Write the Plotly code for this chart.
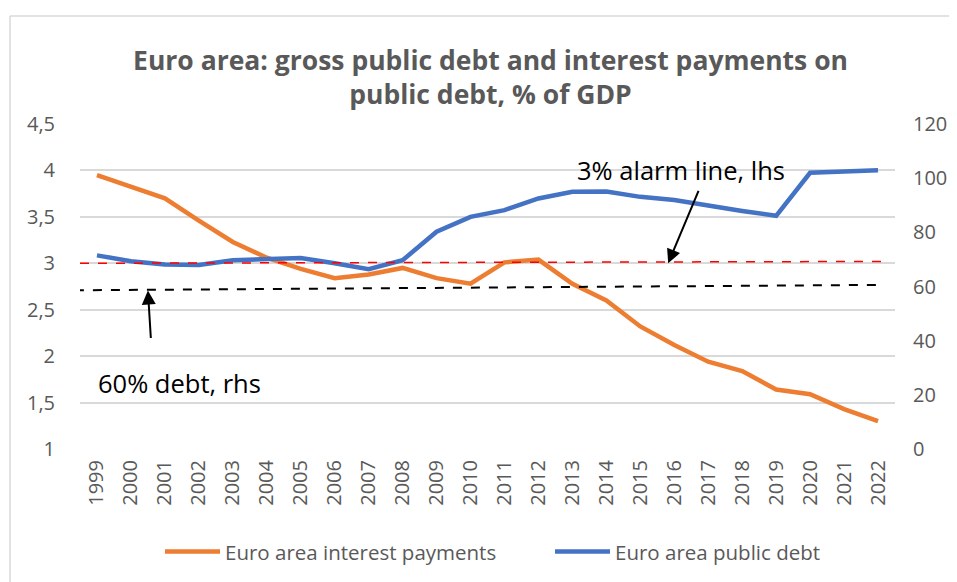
import plotly.graph_objects as go

years = list(range(1999, 2023))
interest = [3.95, 3.82, 3.70, 3.46, 3.23, 3.06, 2.94, 2.84, 2.88, 2.95, 2.84, 2.78,
            3.01, 3.04, 2.78, 2.60, 2.32, 2.12, 1.94, 1.84, 1.64, 1.59, 1.43, 1.30]
debt = [71.5, 69.3, 68.1, 67.9, 69.7, 70.0, 70.5, 68.6, 66.4, 69.7, 80.2, 85.7,
        88.2, 92.5, 95.0, 95.1, 93.1, 91.9, 89.7, 87.9, 86.1, 102.0, 102.5, 102.9]

# hand-drawn reference lines (start, end)
alarm_x = [1998.5, 2022.2]
alarm_y = [3.0, 3.02]
debt60_x = [1998.35, 2022.15]
debt60_y = [58.6, 60.6]

left_ticks = [1, 1.5, 2, 2.5, 3, 3.5, 4, 4.5]
left_labels = ["1", "1,5", "2", "2,5", "3", "3,5", "4", "4,5"]
right_ticks = [0, 20, 40, 60, 80, 100, 120]
x_range = [1998.5, 2022.5]

FONT = "Open Sans"
GRAY = "#595959"
GRID = "#D9D9D9"

fig = go.Figure()

fig.add_trace(go.Scatter(x=years, y=interest, mode="lines", name="Euro area interest payments",
                         line=dict(color="#ED7D31", width=4.5)))
fig.add_trace(go.Scatter(x=years, y=debt, mode="lines", name="Euro area public debt", yaxis="y2",
                         line=dict(color="#4472C4", width=4.5)))

fig.add_shape(type="line", xref="x", yref="y", x0=alarm_x[0], x1=alarm_x[1],
              y0=alarm_y[0], y1=alarm_y[1], line=dict(color="#FF0000", width=1.5, dash="dash"))
fig.add_shape(type="line", xref="x", yref="y2", x0=debt60_x[0], x1=debt60_x[1],
              y0=debt60_y[0], y1=debt60_y[1], line=dict(color="black", width=2, dash="dash"))

# chart frame: only its left and top edges fall inside the window
fig.add_shape(type="line", xref="paper", yref="paper", x0=-70 / 815, x1=-70 / 815, y0=-0.6, y1=1 + 108 / 325,
              line=dict(color=GRID, width=1.5))
fig.add_shape(type="line", xref="paper", yref="paper", x0=-70 / 815, x1=1.2, y0=1 + 108 / 325, y1=1 + 108 / 325,
              line=dict(color=GRID, width=1.5))

fig.add_annotation(x=2015.82, y=3.0, xref="x", yref="y", ax=31, ay=-74, text="",
                   showarrow=True, arrowhead=2, arrowsize=1.4, arrowwidth=2, arrowcolor="black")
fig.add_annotation(x=2000.5, y=58.5, xref="x", yref="y2", ax=3, ay=49, text="",
                   showarrow=True, arrowhead=2, arrowsize=1.4, arrowwidth=2, arrowcolor="black")
fig.add_annotation(x=2016.2, y=4.0, xref="x", yref="y", text="3% alarm line, lhs", showarrow=False,
                   font=dict(family=FONT, size=25.5, color="black"))
fig.add_annotation(x=2001.44, y=24.4, xref="x", yref="y2", text="60% debt, rhs", showarrow=False,
                   font=dict(family=FONT, size=25.5, color="black"))

# the page adds an 8px body margin, so the figure is 8px smaller than the window
fig.update_layout(
    width=949, height=574,
    margin=dict(l=72, r=62, t=116, b=133, autoexpand=False),
    paper_bgcolor="white", plot_bgcolor="white",
    font=dict(family=FONT, color=GRAY, size=18),
    title=dict(text="<b>Euro area: gross public debt and interest payments on<br>public debt, % of GDP</b>",
               xref="container", x=482.5 / 949, xanchor="center", y=1 - 61.5 / 574, yanchor="middle",
               font=dict(family=FONT, size=26.5, color=GRAY)),
    xaxis=dict(range=x_range, tickvals=years, ticktext=[str(y) for y in years],
               tickangle=-90, showgrid=False, zeroline=False, showline=False, automargin=False,
               ticklabelstandoff=6, tickfont=dict(size=20, color=GRAY)),
    yaxis=dict(range=[1, 4.5], tickvals=left_ticks, ticktext=left_labels,
               showgrid=True, gridcolor=GRID, gridwidth=2,
               zeroline=False, showline=False, automargin=False,
               ticklabelstandoff=24, tickfont=dict(size=20, color=GRAY)),
    yaxis2=dict(range=[0, 120], tickvals=right_ticks, overlaying="y", side="right",
                showgrid=False, zeroline=False, showline=False, automargin=False,
                ticklabelstandoff=17, tickfont=dict(size=20, color=GRAY)),
    legend=dict(orientation="h", x=80 / 815, xanchor="left", y=-0.316, yanchor="middle",
                font=dict(family=FONT, size=20.5, color=GRAY), itemwidth=55,
                tracegroupgap=0, entrywidthmode="pixels", entrywidth=320),
    showlegend=True,
)

fig.write_html("out.html")
